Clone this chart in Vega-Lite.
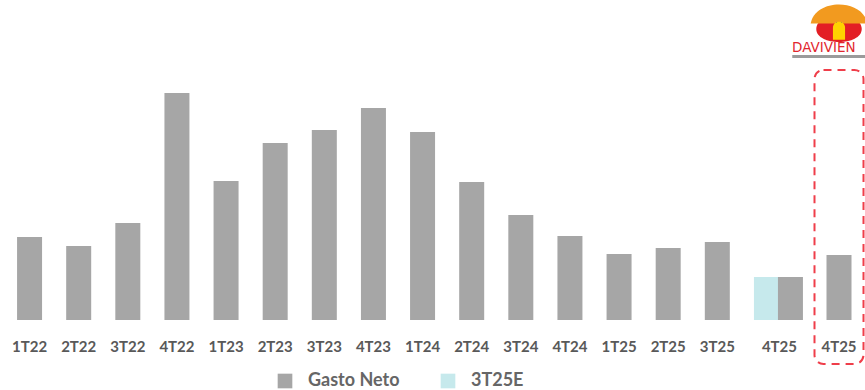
{
  "$schema": "https://vega.github.io/schema/vega-lite/v6.json",
  "padding": {"left": 5, "top": 0, "right": 0, "bottom": 0},
  "spacing": 23.5,
  "bounds": "flush",
  "background": "white",
  "config": {
    "view": {"stroke": null},
    "font": "Lato",
    "axisX": {
      "domain": false, "ticks": false, "grid": false, "title": null,
      "labelAngle": 0, "labelFont": "Lato", "labelFontSize": 15, "labelFontWeight": "bold",
      "labelColor": "#595959", "labelPadding": 19
    }
  },
  "datasets": {
    "main": [
      {"cat": "1T22", "series": "Gasto Neto", "value": 83},
      {"cat": "2T22", "series": "Gasto Neto", "value": 74},
      {"cat": "3T22", "series": "Gasto Neto", "value": 97},
      {"cat": "4T22", "series": "Gasto Neto", "value": 227},
      {"cat": "1T23", "series": "Gasto Neto", "value": 139},
      {"cat": "2T23", "series": "Gasto Neto", "value": 177},
      {"cat": "3T23", "series": "Gasto Neto", "value": 190},
      {"cat": "4T23", "series": "Gasto Neto", "value": 212},
      {"cat": "1T24", "series": "Gasto Neto", "value": 188},
      {"cat": "2T24", "series": "Gasto Neto", "value": 138},
      {"cat": "3T24", "series": "Gasto Neto", "value": 105},
      {"cat": "4T24", "series": "Gasto Neto", "value": 84},
      {"cat": "1T25", "series": "Gasto Neto", "value": 66},
      {"cat": "2T25", "series": "Gasto Neto", "value": 72},
      {"cat": "3T25", "series": "Gasto Neto", "value": 78},
      {"cat": "4T25", "series": "3T25E", "value": 43},
      {"cat": "4T25", "series": "Gasto Neto", "value": 43}
    ],
    "highlight": [
      {"cat": "4T25", "value": 65, "logo": "DAVIVIENDA"}
    ]
  },
  "hconcat": [
    {
      "width": 786,
      "height": 320,
      "data": {"name": "main"},
      "encoding": {
        "x": {
          "field": "cat", "type": "nominal", "sort": null,
          "scale": {"paddingInner": 0, "paddingOuter": 0},
          "axis": {"labelOffset": {"condition": {"test": "datum.value === '4T25'", "value": 13}, "value": 0}}
        },
        "y": {"field": "value", "type": "quantitative", "scale": {"domain": [0, 320], "nice": false, "zero": true}, "axis": null},
        "color": {
          "field": "series", "type": "nominal",
          "scale": {"domain": ["Gasto Neto", "3T25E"], "range": ["#A6A6A6", "#C6E9EC"]},
          "legend": {
            "title": null, "orient": "none", "legendX": 271, "legendY": 372,
            "direction": "horizontal", "symbolType": "square", "symbolSize": 215,
            "symbolStrokeWidth": 0, "labelFont": "Lato", "labelFontSize": 18, "labelFontWeight": "bold",
            "labelColor": "#666666", "labelOffset": 14, "columnPadding": 39
          }
        }
      },
      "layer": [
        {
          "transform": [{"filter": "!(datum.cat === '4T25' && datum.series === 'Gasto Neto')"}],
          "mark": {"type": "bar", "size": 25}
        },
        {
          "transform": [{"filter": "datum.cat === '4T25' && datum.series === 'Gasto Neto'"}],
          "mark": {"type": "bar", "size": 25, "xOffset": 24}
        }
      ]
    },
    {
      "width": 49,
      "height": 320,
      "data": {"name": "highlight"},
      "encoding": {
        "x": {"field": "cat", "type": "nominal", "scale": {"paddingInner": 0, "paddingOuter": 0}}
      },
      "layer": [
        {
          "mark": {"type": "rect", "fill": "transparent", "stroke": "#EF3E4A", "strokeWidth": 2, "strokeDash": [8, 6], "cornerRadius": 9},
          "encoding": {
            "y": {"datum": 250, "type": "quantitative", "scale": {"domain": [0, 320], "nice": false}, "axis": null},
            "y2": {"datum": -44}
          }
        },
        {
          "mark": {"type": "bar", "size": 25, "color": "#A6A6A6"},
          "encoding": {
            "y": {"field": "value", "type": "quantitative", "scale": {"domain": [0, 320], "nice": false}, "axis": null}
          }
        },
        {
          "mark": {"type": "point", "shape": "square", "filled": true, "opacity": 1, "color": "#D7262E", "size": 30, "dx": 17},
          "encoding": {"y": {"datum": 309}}
        },
        {
          "mark": {"type": "point", "filled": true, "opacity": 1, "color": "#E31E24", "size": 2066, "dx": 1,
                   "shape": "M-1,0 C-1,-0.76 1,-0.76 1,0 C1,0.76 -1,0.76 -1,0 Z"},
          "encoding": {"y": {"datum": 291}}
        },
        {
          "mark": {"type": "point", "filled": true, "opacity": 1, "color": "#F29A1F", "size": 3200, "dx": -3.5,
                   "shape": "M-1,0.3 C-0.85,-0.6 0.85,-0.6 1,0.3 Z"},
          "encoding": {"y": {"datum": 305}}
        },
        {
          "mark": {"type": "point", "shape": "square", "filled": true, "opacity": 1, "color": "#1F3C88", "size": 36, "dx": -6},
          "encoding": {"y": {"datum": 295}}
        },
        {
          "mark": {"type": "point", "shape": "square", "filled": true, "opacity": 1, "color": "#1F3C88", "size": 36, "dx": 11},
          "encoding": {"y": {"datum": 295}}
        },
        {
          "mark": {"type": "point", "filled": true, "opacity": 1, "color": "#FFD200", "size": 588, "dx": 0,
                   "shape": "M-0.5,1 L-0.5,0 C-0.5,-0.66 0.5,-0.66 0.5,0 L0.5,1 Z"},
          "encoding": {"y": {"datum": 292.3}}
        },
        {
          "mark": {"type": "point", "filled": true, "opacity": 1, "color": "#9B9B9B", "size": 8742, "dx": -10,
                   "shape": "M-1,-0.03 L1,-0.03 L1,0.03 L-1,0.03 Z"},
          "encoding": {"y": {"datum": 263.5}}
        },
        {
          "mark": {"type": "text", "align": "left", "baseline": "alphabetic", "dx": -47, "font": "DejaVu Sans",
                   "fontSize": 13.5, "color": "#E2262E", "limit": 73, "ellipsis": "\u200b"},
          "encoding": {"y": {"datum": 268}, "text": {"field": "logo"}}
        }
      ]
    }
  ]
}
